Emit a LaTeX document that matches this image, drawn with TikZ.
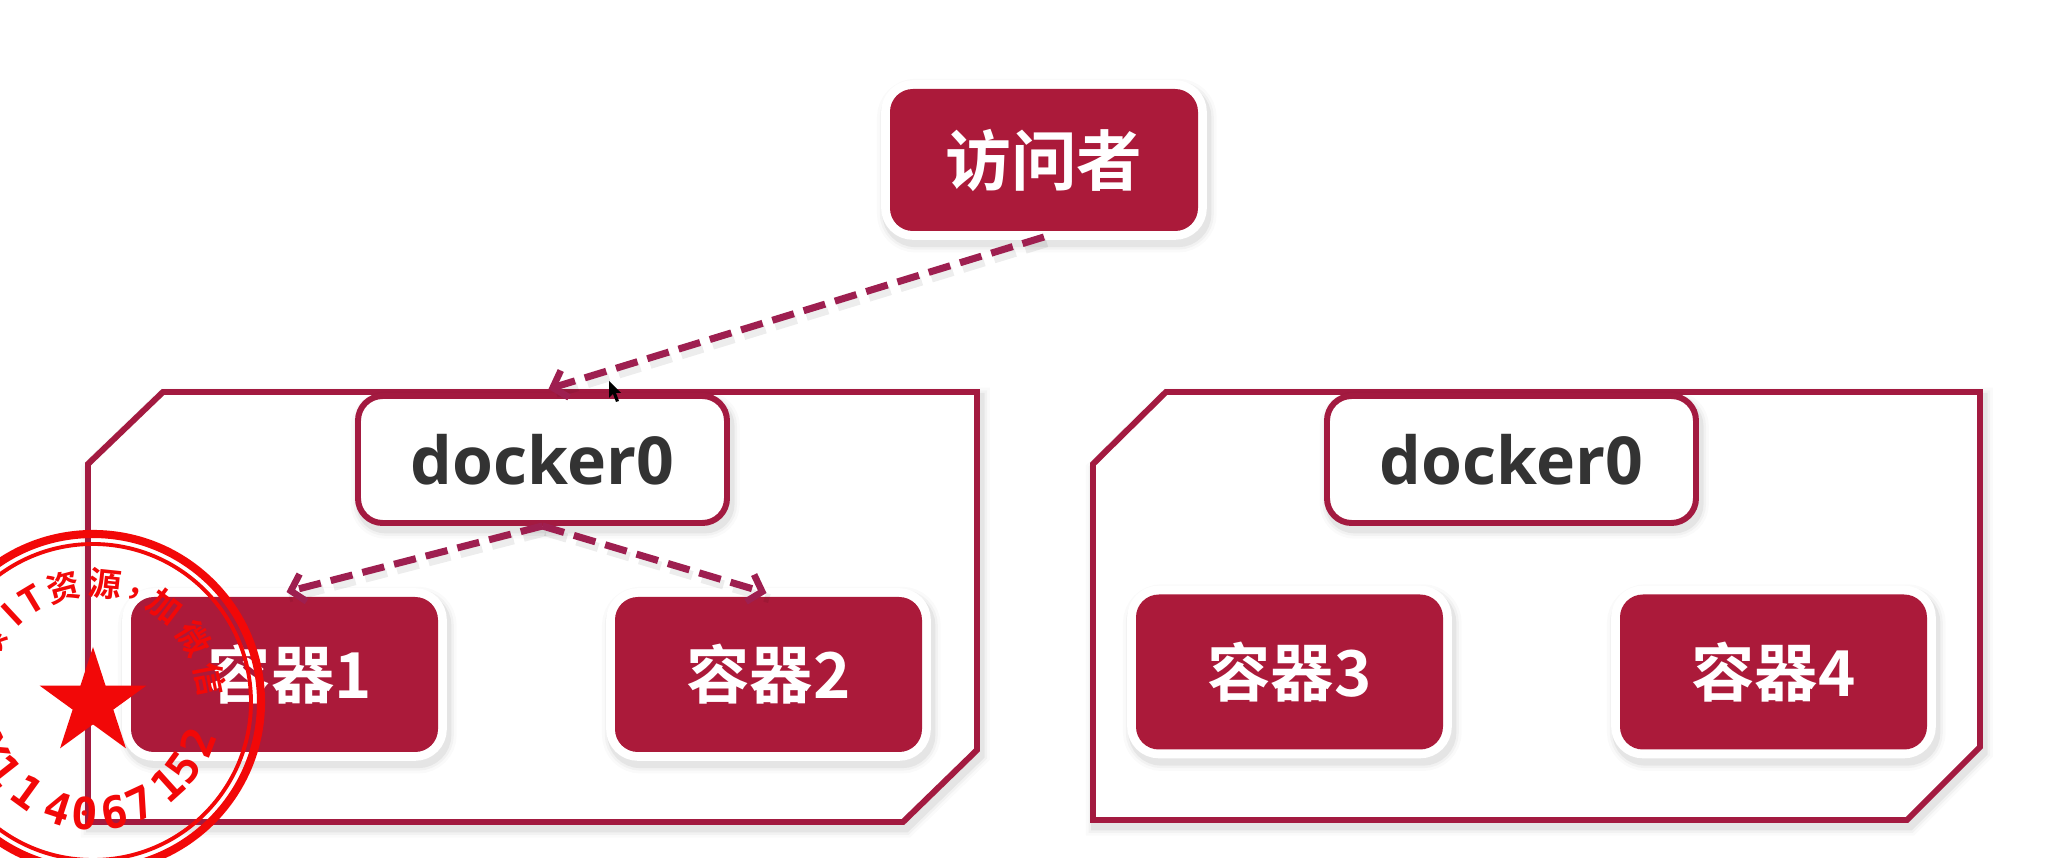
\documentclass[tikz,border=0pt]{standalone}
\usepackage{fontspec}
\setmainfont{Noto Sans CJK SC}[BoldFont=* Bold]
\newfontfamily\latfont{Open Sans}[BoldFont=* Bold]
\newfontfamily\stampfont{DejaVu Sans Mono}[BoldFont=* Bold]
\usetikzlibrary{arrows.meta,shapes.geometric,calc}
\definecolor{boxred}{HTML}{AB1A3A}
\definecolor{edgered}{HTML}{A31A40}
\definecolor{linkred}{HTML}{9E1F50}
\definecolor{stampred}{HTML}{F20808}
\definecolor{inkgray}{HTML}{333333}
\tikzset{
  softshadow/.style={
    preaction={draw=black,draw opacity=.018,line width=#1+4pt,transform canvas={xshift=.8pt,yshift=-1.6pt}},
    preaction={draw=black,draw opacity=.03,line width=#1+2.4pt,transform canvas={xshift=.8pt,yshift=-1.6pt}},
    preaction={draw=black,draw opacity=.05,line width=#1+1pt,transform canvas={xshift=.8pt,yshift=-1.6pt}}},
  redbox/.style={softshadow=5pt,preaction={draw=white,line width=5pt},
    rectangle,rounded corners=6.5pt,fill=boxred,text=white,font=\bfseries\fontsize{18}{20}\selectfont,
    minimum width=307*0.01cm,minimum height=155*0.01cm,outer sep=0pt,inner sep=0pt},
  bridge/.style={softshadow=1.7pt,rectangle,rounded corners=7pt,fill=white,draw=edgered,line width=1.7pt,
    text=inkgray,font=\latfont\bfseries\fontsize{18.8}{20}\selectfont,
    minimum width=369*0.01cm,minimum height=127*0.01cm,outer sep=0pt,inner sep=0pt},
  hostpanel/.style={softshadow=1.7pt,fill=white,draw=edgered,line width=1.7pt,line join=miter},
  link/.style={draw=linkred,line width=2pt,dash pattern=on 6.4pt off 2.9pt,
    -{Straight Barb[length=3.6pt,width=8pt,line width=1.9pt]},
    preaction={draw=black,draw opacity=.07,line width=2.6pt,dash pattern=on 6.4pt off 2.9pt,-,transform canvas={xshift=.8pt,yshift=-1.6pt}}},
  stampglyph/.style={text=stampred,inner sep=0pt,font=\stampfont\bfseries\fontsize{#1}{#1}\selectfont},
  stamplatin/.style={text=stampred,inner sep=0pt,font=\latfont\bfseries\fontsize{#1}{#1}\selectfont},
  stampcjk/.style={text=stampred,inner sep=0pt,font=\bfseries\fontsize{#1}{#1}\selectfont},
}
\begin{document}
\begin{tikzpicture}[x=0.01cm,y=-0.01cm]
\useasboundingbox (0,0) rectangle (2062,858);
\fill[white] (0,0) rectangle (2062,858);
% host panels
\path[hostpanel] (163,392) -- (977,392) -- (977,750) -- (903,822) -- (88,822) -- (88,464) -- cycle;
\path[hostpanel] (1166,392) -- (1980,392) -- (1980,747) -- (1907,820) -- (1093,820) -- (1093,464) -- cycle;
% nodes
\node[redbox,minimum width=308*0.01cm,minimum height=142*0.01cm,font=\bfseries\fontsize{18.7}{20}\selectfont] (visitor) at (1044,160) {访问者};
\node[bridge] (dockerA) at (542.5,459.5) {docker0};
\node[bridge] (dockerB) at (1511.5,459.5) {docker0};
\node[redbox] (c1) at (284.5,674.5) {\hspace*{3pt}容器1};
\node[redbox] (c2) at (768.5,674.5) {容器2};
\node[redbox] (c3) at (1289.5,672) {容器3};
\node[redbox] (c4) at (1773.5,672) {容器4};
% connectors
\draw[link] ($(visitor.south)+(0,6)$) -- ($(dockerA.north)+(6,-7)$);
\draw[link] ($(dockerA.south)+(0,3)$) -- ($(c1.north)+(2,-5)$);
\draw[link] ($(dockerA.south)+(0,3)$) -- ($(c2.north)+(-2,-4)$);
% mouse pointer
\fill[black] (609,381) -- (609,398) -- (613,394) -- (616,402) -- (619,401) -- (616,393) -- (621,393) -- cycle;
% stamp
\coordinate (stampc) at (93,702);
\draw[stampred,line width=2.3pt] (stampc) circle (168);
\draw[stampred,line width=1.1pt] (stampc) circle (158);
\node[star,star points=5,star point ratio=2.618,fill=stampred,minimum size=112*0.01cm,inner sep=0pt] (stampstar) at (93,703) {};
\foreach \ch/\ang in {领/151,资/104.6,源/84,加/53,微/32,信/11}
  \node[stampcjk=9.4,rotate=\ang-90] at ($(stampc)+(-\ang:119)$) {\ch};
\foreach \ch/\ang in {I/133,T/121}
  \node[stamplatin=10.5,rotate=\ang-90] at ($(stampc)+(-\ang:119)$) {\ch};
\node[stampcjk=9.4,rotate=-21] at ($(stampc)+(-69:116)$) {,};
\foreach \ch/\ang in {2/-21,5/-36,1/-48,7/-65,6/-79,0/-94,4/-108,1/-126,1/-142,X/-155}
  \node[stampglyph=12.5,rotate=\ang+90] at ($(stampc)+(-\ang:112)$) {\ch};
\end{tikzpicture}
\end{document}
